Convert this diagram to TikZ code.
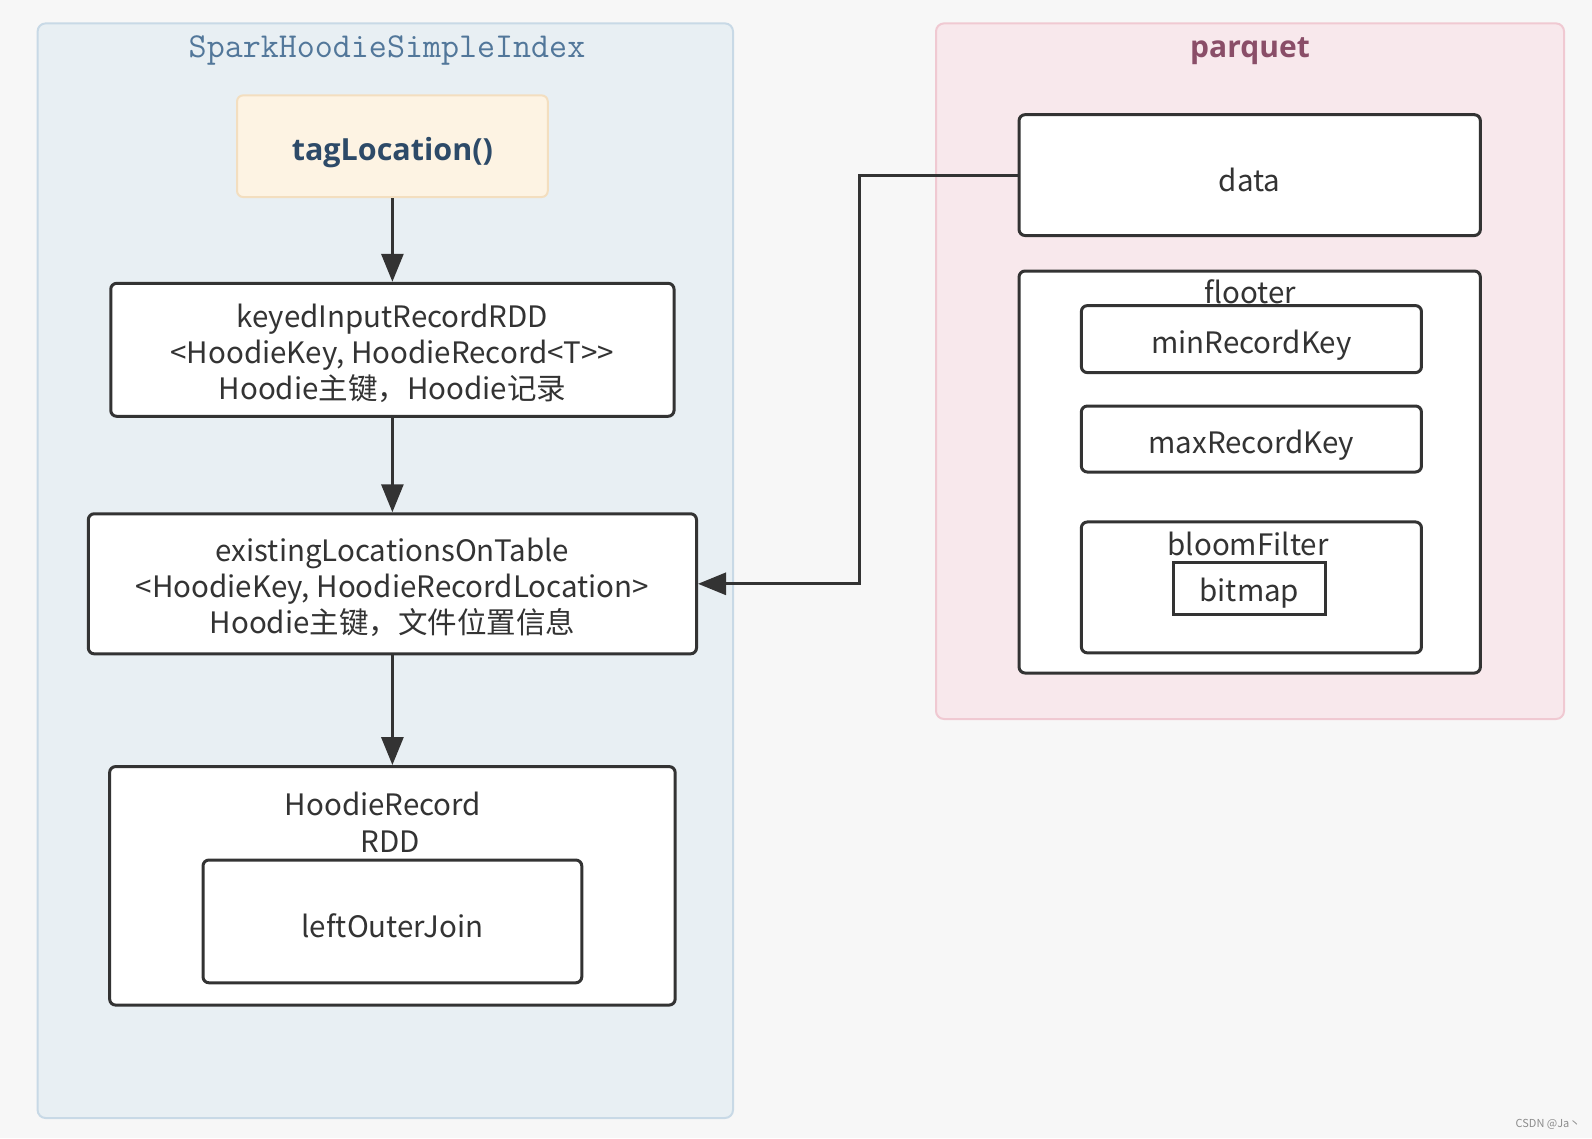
\documentclass[tikz,border=0pt]{standalone}
\usepackage{fontspec}
\setmainfont{Noto Sans CJK SC}
\newfontfamily\boldsans{Open Sans}
\usetikzlibrary{arrows.meta}
\definecolor{bgcol}{HTML}{F7F7F7}
\definecolor{leftfill}{HTML}{E8EFF3}
\definecolor{leftline}{HTML}{C8D9E6}
\definecolor{rightfill}{HTML}{F8E8EC}
\definecolor{rightline}{HTML}{F0C9D2}
\definecolor{tagfill}{HTML}{FDF3E3}
\definecolor{tagline}{HTML}{F3DEBF}
\definecolor{tagtext}{HTML}{2D4A68}
\definecolor{titleblue}{HTML}{52779A}
\definecolor{titlemauve}{HTML}{8A4E68}
\definecolor{boxline}{HTML}{333333}
\definecolor{boxtext}{HTML}{333333}
\newcommand\dn[2][5pt]{\raisebox{-#1}[\height][\depth]{#2}}
\newcommand\lines[1]{\dn[6pt]{\begin{tabular}{@{}c@{}}#1\end{tabular}}}
\tikzset{
  container/.style={draw=#1, line width=2pt, rounded corners=8pt},
  wbox/.style={draw=boxline, fill=white, line width=3pt, rounded corners=6pt, text=boxtext,
    font=\fontsize{29.5}{36}\selectfont},
  sqbox/.style={draw=boxline, fill=white, line width=3pt, text=boxtext,
    font=\fontsize{29.5}{36}\selectfont},
  lbl/.style={text=boxtext, font=\fontsize{29.5}{36}\selectfont, inner sep=0pt},
  arr/.style={draw=boxline, line width=3pt, -{Triangle[length=28pt,width=22pt]}},
}
\begin{document}
\begin{tikzpicture}[x=1pt,y=-1pt]
\useasboundingbox[fill=bgcol] (0,0) rectangle (1592,1138);
% containers
\node[container=leftline, fill=leftfill, minimum width=695.4pt, minimum height=1094.6pt] (leftc) at (385.3,570.7) {};
\node[container=rightline, fill=rightfill, minimum width=628pt, minimum height=695.6pt] (rightc) at (1250,371.2) {};
\node[text=titleblue, font=\ttfamily\fontsize{35}{36}\selectfont, inner sep=0pt] (lefttitle) at (387,50) {SparkHoodieSimpleIndex};
\node[text=titlemauve, font=\boldsans\bfseries\fontsize{30}{32}\selectfont, inner sep=0pt] (righttitle) at (1250,51) {parquet};
% left flow
\node[draw=tagline, fill=tagfill, line width=2pt, rounded corners=6pt, minimum width=310.7pt, minimum height=101.6pt,
  text=tagtext, font=\boldsans\bfseries\fontsize{30.5}{32}\selectfont] (tag) at (392.4,146.2) {\dn[6pt]{tagLocation()}};
\node[wbox, minimum width=563.3pt, minimum height=133pt] (keyed) at (392.4,349.8)
  {\lines{keyedInputRecordRDD\\<HoodieKey, HoodieRecord<T>{}>\\Hoodie主键，Hoodie记录}};
\node[wbox, minimum width=608.2pt, minimum height=140.1pt] (exist) at (392.4,583.8)
  {\lines{existingLocationsOnTable\\<HoodieKey, HoodieRecordLocation>\\Hoodie主键，文件位置信息}};
\node[wbox, minimum width=565.5pt, minimum height=238.5pt] (hrec) at (392.4,885.8) {};
\node[lbl, align=center, font=\fontsize{29.5}{37}\selectfont] (hrectitle) at (390,822) {HoodieRecord\hspace*{14pt}\\RDD};
\node[wbox, minimum width=378.8pt, minimum height=122.8pt] (loj) at (392.4,921.4) {\dn[4pt]{leftOuterJoin}};
% right side
\node[wbox, minimum width=461.3pt, minimum height=120.8pt] (data) at (1249.7,175.1) {\dn{data}};
\node[wbox, minimum width=461.3pt, minimum height=402pt] (footer) at (1249.7,472) {};
\node[wbox, minimum width=340.1pt, minimum height=67pt] (minrk) at (1251.4,339.1) {\dn[6pt]{minRecordKey}};
\node[lbl] (footertitle) at (1250,292) {flooter};
\node[wbox, minimum width=340.1pt, minimum height=66pt] (maxrk) at (1251.4,439) {\dn[6pt]{maxRecordKey}};
\node[wbox, minimum width=340.1pt, minimum height=130.9pt] (bloom) at (1251.4,587.4) {};
\node[lbl] (bloomtitle) at (1248,544) {bloomFilter};
\node[sqbox, minimum width=151.3pt, minimum height=51.8pt] (bitmap) at (1249.4,588.4) {\dn{bitmap}};
% connectors
\draw[arr] (tag.south -| keyed.north) -- (keyed.north);
\draw[arr] (keyed.south) -- (exist.north);
\draw[arr] (exist.south) -- (hrec.north);
\coordinate (bend) at (859,175.1);
\draw[arr] (data.west) -- (bend) |- (exist.east);
% watermark
\node[text=black!45, font=\fontsize{11}{13}\selectfont, inner sep=0pt] (wm) at (1548,1124) {CSDN @Ja丶};
\end{tikzpicture}
\end{document}
